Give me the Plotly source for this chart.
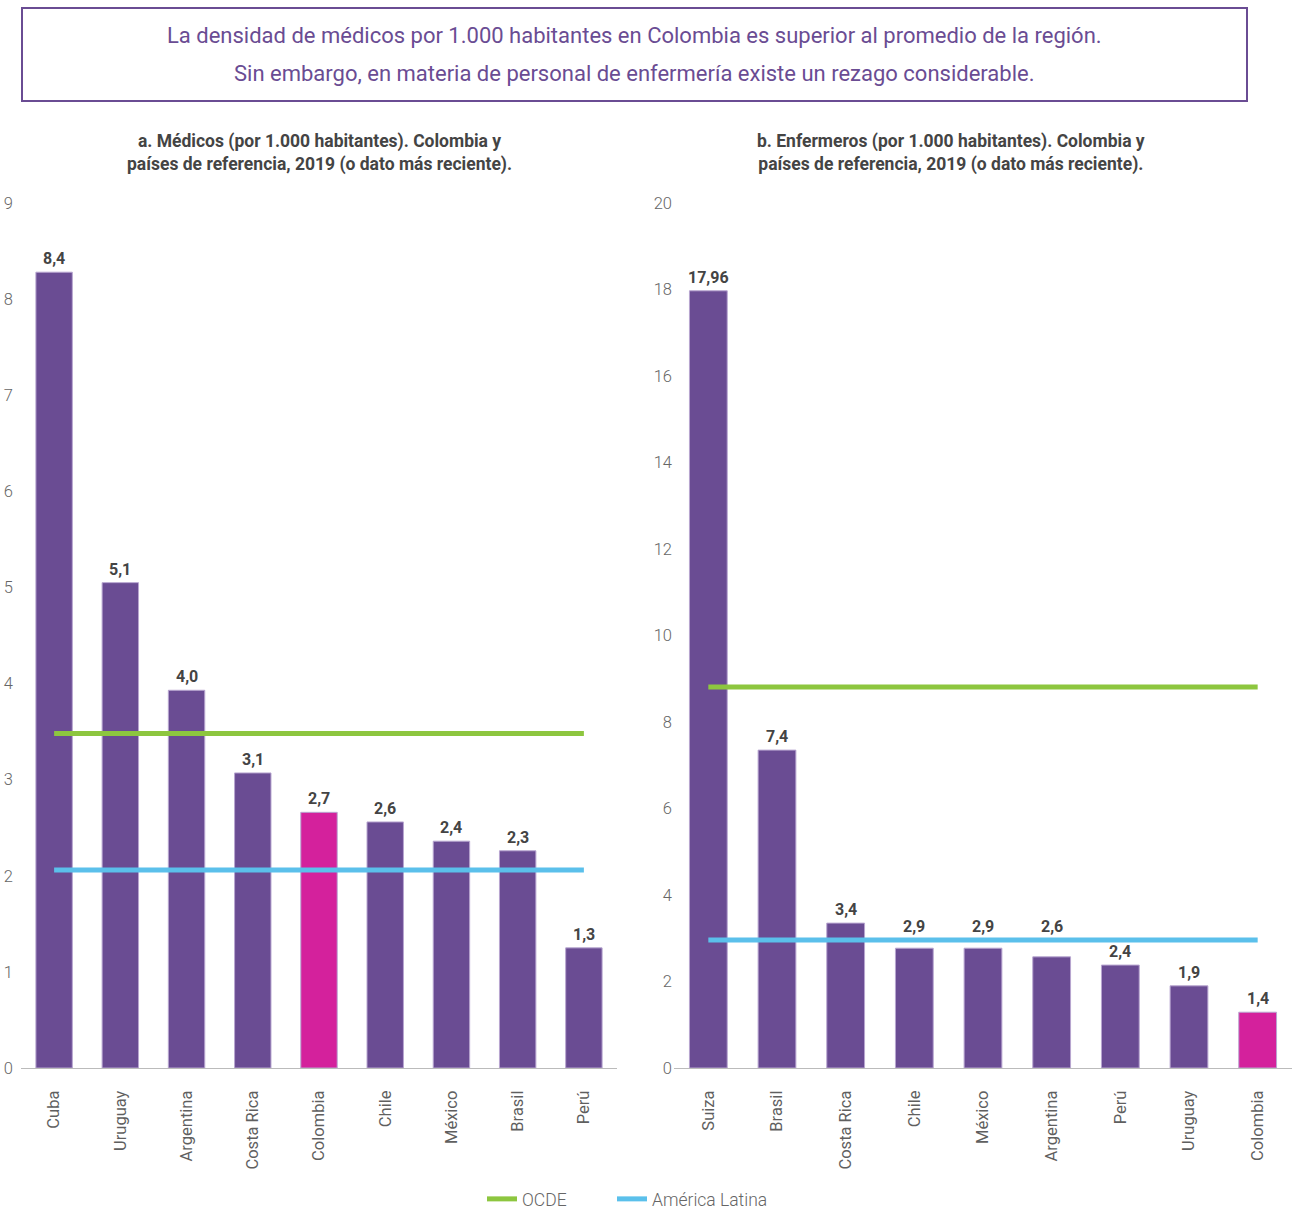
import plotly.graph_objects as go

W, H = 1292, 1211

# ---- data ----
cats_a = ["Cuba", "Uruguay", "Argentina", "Costa Rica", "Colombia", "Chile", "México", "Brasil", "Perú"]
vals_a = [8.28, 5.05, 3.93, 3.07, 2.66, 2.56, 2.36, 2.26, 1.25]
labels_a = ["8,4", "5,1", "4,0", "3,1", "2,7", "2,6", "2,4", "2,3", "1,3"]
ocde_a = 3.48
al_a = 2.06

cats_b = ["Suiza", "Brasil", "Costa Rica", "Chile", "México", "Argentina", "Perú", "Uruguay", "Colombia"]
vals_b = [17.97, 7.35, 3.35, 2.77, 2.77, 2.57, 2.38, 1.90, 1.29]
labels_b = ["17,96", "7,4", "3,4", "2,9", "2,9", "2,6", "2,4", "1,9", "1,4"]
ocde_b = 8.81
al_b = 2.96

ticks_a = [0, 1, 2, 3, 4, 5, 6, 7, 8, 9]
ticks_b = [0, 2, 4, 6, 8, 10, 12, 14, 16, 18, 20]

PURPLE = "#6a4c93"
MAGENTA = "#d4219c"
GREEN = "#8dc63f"
BLUE = "#5bc0eb"
GRAY = "#666666"
DARK = "#444444"
FONT = "Roboto"


def colors(cats):
    return [MAGENTA if c == "Colombia" else PURPLE for c in cats]


fig = go.Figure()

for cats, vals, xa, ya in [(cats_a, vals_a, "x", "y"), (cats_b, vals_b, "x2", "y2")]:
    fig.add_trace(go.Bar(x=cats, y=vals,
                         marker=dict(color=colors(cats), line=dict(color="#b8a6d0", width=1)),
                         width=0.55, showlegend=False, hoverinfo="x+y",
                         xaxis=xa, yaxis=ya))

for cats, ocde, al, xa, ya, show in [(cats_a, ocde_a, al_a, "x", "y", True),
                                      (cats_b, ocde_b, al_b, "x2", "y2", False)]:
    fig.add_trace(go.Scatter(x=[cats[0], cats[-1]], y=[ocde, ocde], mode="lines",
                             line=dict(color=GREEN, width=5), name="OCDE", legendgroup="o",
                             legend="legend", showlegend=show, xaxis=xa, yaxis=ya))
    fig.add_trace(go.Scatter(x=[cats[0], cats[-1]], y=[al, al], mode="lines",
                             line=dict(color=BLUE, width=5), name="América Latina", legendgroup="a",
                             legend="legend2", showlegend=show, xaxis=xa, yaxis=ya))

# value labels (lifted above a reference line when they would collide with it)
lab_font = dict(family=FONT, size=16, color=DARK, weight="bold")
for cats, vals, labels, lines, xa, ya, clear in [
        (cats_a, vals_a, labels_a, [ocde_a, al_a], "x", "y", 0.2),
        (cats_b, vals_b, labels_b, [ocde_b, al_b], "x2", "y2", 0.45)]:
    for c, v, t in zip(cats, vals, labels):
        base = v
        for ln in lines:
            if 0 < ln - v < clear:
                base = ln
        fig.add_annotation(x=c, y=base, text=t, xref=xa, yref=ya, showarrow=False,
                           xanchor="center", yanchor="bottom", yshift=2, font=lab_font)

ybot = (H - 1068) / H
ytop = (H - 203) / H

xax = dict(showgrid=False, showline=True, linecolor="#bbbbbb", linewidth=1, ticks="",
           tickangle=-90, tickfont=dict(family=FONT, size=16.5, color="#5f5f5f", weight=400),
           zeroline=False, automargin=False, ticklabelstandoff=15)
yax = dict(showgrid=False, showline=False, zeroline=False, ticks="", automargin=False,
           tickfont=dict(family=FONT, size=16.5, color=GRAY, weight=300))

leg = dict(orientation="h", xanchor="left", y=(H - 1199) / H, yanchor="middle",
           font=dict(family=FONT, size=17.5, color=GRAY, weight=300), tracegroupgap=0)

fig.update_layout(
    width=W, height=H,
    margin=dict(l=0, r=0, t=0, b=0, autoexpand=False),
    paper_bgcolor="white", plot_bgcolor="white",
    xaxis=dict(xax, domain=[21 / W, 617 / W], anchor="y", range=[-0.5, 8.5]),
    xaxis2=dict(xax, domain=[674 / W, 1292 / W], anchor="y2", range=[-0.5, 8.5]),
    yaxis=dict(yax, domain=[ybot, ytop], anchor="x", range=[0, 9], tickvals=ticks_a,
               ticklabelstandoff=7),
    yaxis2=dict(yax, domain=[ybot, ytop], anchor="x2", range=[0, 20], tickvals=ticks_b,
                ticklabelstandoff=1),
    legend=dict(leg, x=482 / W),
    legend2=dict(leg, x=612 / W),
    showlegend=True,
)

fig.add_shape(type="rect", xref="paper", yref="paper",
              x0=22 / W, x1=1247 / W, y0=1 - 101 / H, y1=1 - 8 / H,
              line=dict(color=PURPLE, width=2), fillcolor="rgba(0,0,0,0)")

title_font = dict(family=FONT, size=22, color=PURPLE)
fig.add_annotation(text="La densidad de médicos por 1.000 habitantes en Colombia es superior al promedio de la región.",
                   xref="paper", yref="paper", x=634 / W, y=1 - 36 / H, showarrow=False,
                   xanchor="center", yanchor="middle", font=title_font)
fig.add_annotation(text="Sin embargo, en materia de personal de enfermería existe un rezago considerable.",
                   xref="paper", yref="paper", x=634 / W, y=1 - 74 / H, showarrow=False,
                   xanchor="center", yanchor="middle", font=title_font)

sub_font = dict(family=FONT, size=17.5, color=DARK, weight="bold")
fig.add_annotation(text="a. Médicos (por 1.000 habitantes). Colombia y<br>países de referencia, 2019 (o dato más reciente).",
                   xref="paper", yref="paper", x=319 / W, y=1 - 153 / H, showarrow=False,
                   xanchor="center", yanchor="middle", font=sub_font)
fig.add_annotation(text="b. Enfermeros (por 1.000 habitantes). Colombia y<br>países de referencia, 2019 (o dato más reciente).",
                   xref="paper", yref="paper", x=951 / W, y=1 - 153 / H, showarrow=False,
                   xanchor="center", yanchor="middle", font=sub_font)

fig.write_html("out.html")
